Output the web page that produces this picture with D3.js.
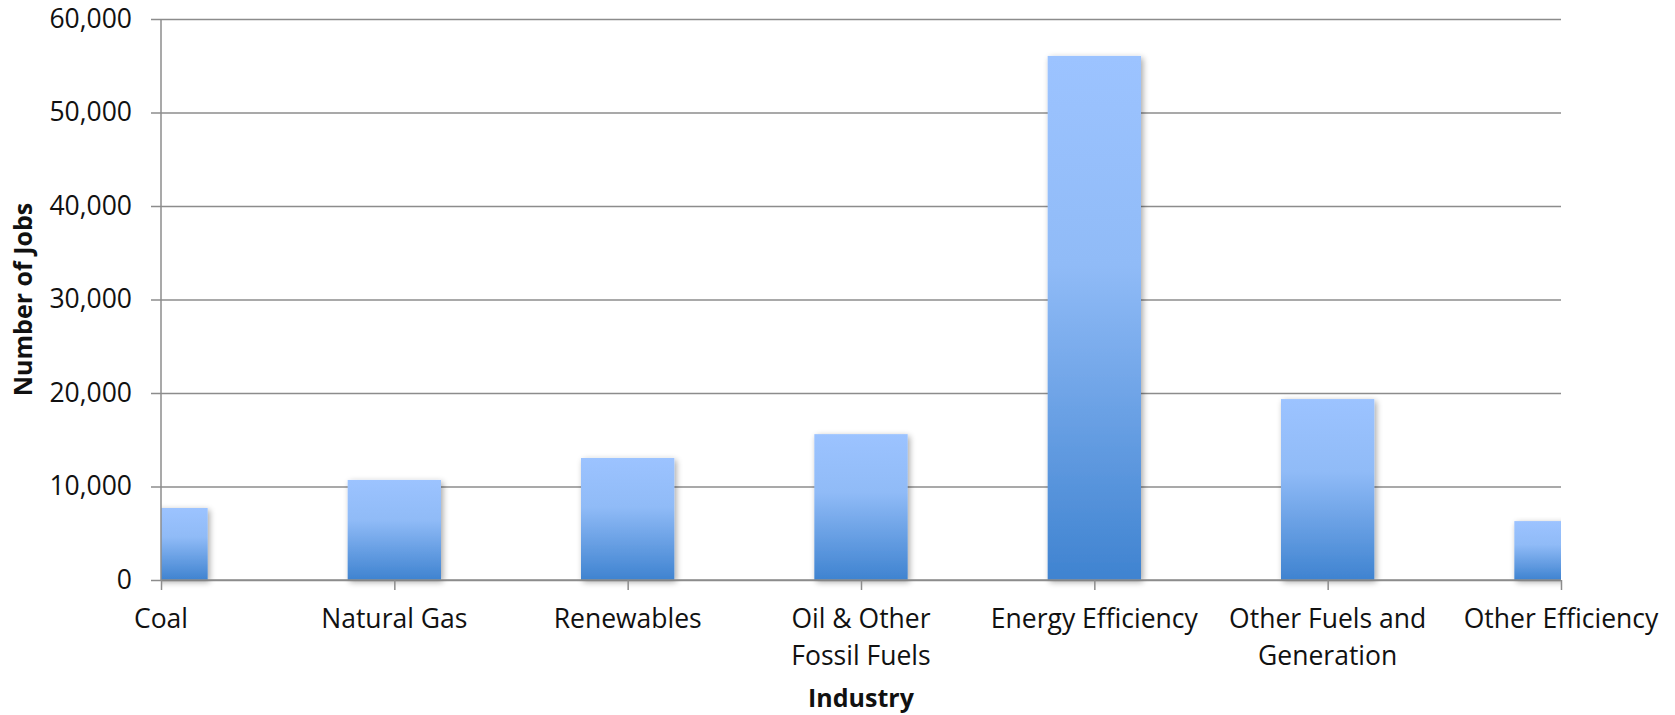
<!DOCTYPE html>
<html>
<head>
<meta charset="utf-8">
<script src="https://cdn.jsdelivr.net/npm/d3@7/dist/d3.min.js"></script>
<style>
  html, body { margin: 0; padding: 0; background: #fff; }
  svg { display: block; font-family: "Open Sans", sans-serif; }
</style>
</head>
<body>
<svg id="chart" width="1675" height="715"></svg>
<script>
// Energy-sector jobs by industry
const categories = [
  ["Coal"],
  ["Natural Gas"],
  ["Renewables"],
  ["Oil & Other", "Fossil Fuels"],
  ["Energy Efficiency"],
  ["Other Fuels and", "Generation"],
  ["Other Efficiency"]
];
const jobs = [7700, 10700, 13050, 15600, 56050, 19350, 6300];
const yTicks = [0, 10000, 20000, 30000, 40000, 50000, 60000];
const yTitle = "Number of Jobs";
const xTitle = "Industry";

const svg = d3.select("#chart");
const margin = { left: 161, right: 114, top: 19, bottom: 135 };
const W = 1675, H = 715;
const plotW = W - margin.left - margin.right;
const plotH = H - margin.top - margin.bottom;

const keys = categories.map(c => c.join(" "));
const x = d3.scalePoint().domain(keys).range([0, plotW]);
const y = d3.scaleLinear().domain([0, 60000]).range([plotH, 0]);
const barW = x.step() * 0.4;

const defs = svg.append("defs");
const grad = defs.append("linearGradient")
  .attr("id", "barFill").attr("x1", 0).attr("y1", 0).attr("x2", 0).attr("y2", 1);
grad.append("stop").attr("offset", "0%").attr("stop-color", "#9cc3ff");
grad.append("stop").attr("offset", "40%").attr("stop-color", "#90bbf7");
grad.append("stop").attr("offset", "100%").attr("stop-color", "#3f83d0");

const shadow = defs.append("filter").attr("id", "barShadow")
  .attr("x", "-20%").attr("y", "-10%").attr("width", "150%").attr("height", "130%");
shadow.append("feGaussianBlur").attr("in", "SourceAlpha").attr("stdDeviation", 3).attr("result", "blur");
shadow.append("feOffset").attr("in", "blur").attr("dx", 2).attr("dy", 2).attr("result", "off");
shadow.append("feComponentTransfer").attr("in", "off").attr("result", "soft")
  .append("feFuncA").attr("type", "linear").attr("slope", 0.35);
const merge = shadow.append("feMerge");
merge.append("feMergeNode").attr("in", "soft");
merge.append("feMergeNode").attr("in", "SourceGraphic");

defs.append("clipPath").attr("id", "plotClip")
  .append("rect").attr("x", 0).attr("y", -5).attr("width", plotW).attr("height", plotH + 20);

const g = svg.append("g").attr("transform", `translate(${margin.left},${margin.top})`);

// horizontal gridlines with y-axis ticks and labels
const yAxis = d3.axisLeft(y).tickValues(yTicks).tickSize(-plotW)
  .tickFormat(d3.format(","));
const yg = g.append("g").call(yAxis);
yg.select(".domain").remove();
yg.selectAll(".tick line").attr("stroke", "#8c8c8c").attr("stroke-width", 1.5).attr("x1", -10);
yg.selectAll(".tick text").attr("x", -29).attr("font-size", 26.5)
  .attr("fill", "#111").attr("font-family", "'Open Sans', sans-serif");

// bars
g.append("g").attr("clip-path", "url(#plotClip)")
  .selectAll("rect").data(jobs).join("rect")
  .attr("x", (d, i) => x(keys[i]) - barW / 2)
  .attr("y", d => y(d))
  .attr("width", barW)
  .attr("height", d => plotH - y(d))
  .attr("fill", "url(#barFill)")
  .attr("filter", "url(#barShadow)");

// axis lines
g.append("line").attr("x1", 0).attr("x2", 0).attr("y1", 0).attr("y2", plotH)
  .attr("stroke", "#8c8c8c").attr("stroke-width", 1.5);

const xAxis = d3.axisBottom(x).tickSize(10).tickFormat("");
const xg = g.append("g").attr("transform", `translate(0,${plotH})`).call(xAxis);
xg.select(".domain").attr("d", `M0,0H${plotW}`).attr("stroke", "#8c8c8c").attr("stroke-width", 1.5);
xg.selectAll(".tick line").attr("stroke", "#8c8c8c").attr("stroke-width", 1.5);

// category labels, wrapped onto two lines where needed
const labels = g.append("g").attr("font-size", 26.5).attr("fill", "#111").attr("text-anchor", "middle");
categories.forEach((lines, i) => {
  const t = labels.append("text").attr("x", x(keys[i])).attr("y", plotH + 48);
  lines.forEach((ln, j) => {
    t.append("tspan").attr("x", x(keys[i])).attr("dy", j === 0 ? 0 : 37).text(ln);
  });
});

// axis titles
svg.append("text")
  .attr("x", margin.left + plotW / 2).attr("y", 707)
  .attr("text-anchor", "middle").attr("font-size", 25).attr("font-weight", "bold")
  .attr("fill", "#111").text(xTitle);

svg.append("text")
  .attr("transform", `translate(32,${margin.top + plotH / 2}) rotate(-90)`)
  .attr("text-anchor", "middle").attr("font-size", 25).attr("font-weight", "bold")
  .attr("fill", "#111").text(yTitle);
</script>
</body>
</html>
